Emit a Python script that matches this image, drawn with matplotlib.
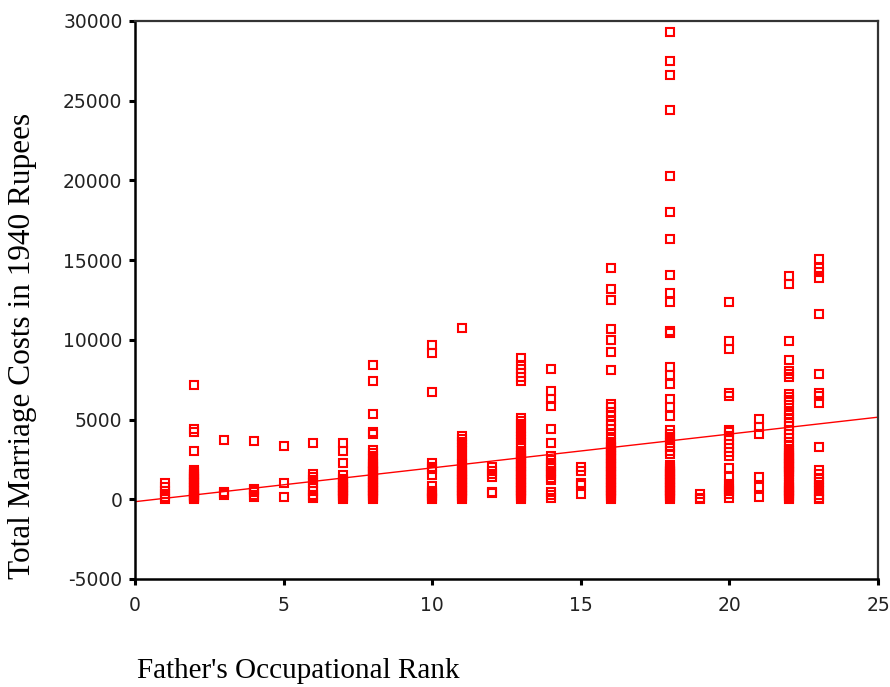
import matplotlib
matplotlib.use("Agg")
import matplotlib.pyplot as plt
import numpy as np

plt.rcParams['axes.unicode_minus'] = False

# marriage costs (1940 rupees) grouped by father's occupational rank
rank_1 = [0, 150, 350, 550, 800, 1000]
rank_2 = [0, 50, 100, 150, 200, 250, 300, 400, 500, 600, 700, 800, 900, 1000, 1100,
          1200, 1300, 1400, 1500, 1600, 1700, 1850, 3000, 4250, 4400, 7150]
rank_3 = [300, 400, 480, 3750]
rank_4 = [150, 300, 450, 600, 650, 3650]
rank_5 = [125, 1000, 3350]
rank_6 = [50, 150, 300, 550, 800, 1000, 1200, 1400, 1600, 3500]
rank_7 = [0, 100, 200, 300, 400, 500, 600, 700, 800, 900, 1000, 1100, 1200, 1300, 1500,
          2250, 3050, 3550]
rank_8 = [0, 100, 200, 300, 400, 500, 600, 700, 800, 900, 1000, 1100, 1200, 1300, 1400,
          1500, 1600, 1700, 1800, 1900, 2000, 2100, 2200, 2300, 2500, 2700, 2900, 3100,
          4100, 4250, 5350, 7400, 8400]
rank_10 = [0, 100, 200, 300, 400, 550, 830, 1520, 1900, 2050, 2250, 6750, 9150, 9650]
rank_11 = [0, 100, 200, 300, 400, 500, 600, 700, 800, 900, 1000, 1100, 1200, 1300, 1400,
           1500, 1600, 1700, 1800, 1900, 2000, 2200, 2400, 2600, 2800, 3000, 3200, 3400,
           3600, 3800, 4000, 10750]
rank_12 = [400, 450, 1400, 1600, 1800, 2050]
rank_13 = [0, 100, 200, 300, 400, 500, 600, 700, 800, 900, 1000, 1100, 1200, 1300, 1400,
           1500, 1600, 1700, 1800, 1900, 2000, 2100, 2200, 2300, 2400, 2500, 2600, 2700,
           2800, 2900, 3000, 3300, 3500, 3700, 3900, 4100, 4300, 4500, 4700, 4900, 5100,
           7450, 7700, 7950, 8150, 8400, 8850]
rank_14 = [50, 250, 450, 1200, 1350, 1500, 1650, 1800, 1950, 2100, 2250, 2450, 2700,
           3500, 4400, 5850, 6300, 6800, 8150]
rank_15 = [350, 900, 1000, 1800, 2050]
rank_16 = [0, 100, 200, 300, 400, 500, 600, 700, 800, 900, 1000, 1100, 1200, 1300, 1400,
           1500, 1600, 1700, 1800, 1900, 2000, 2100, 2200, 2300, 2400, 2500, 2600, 2700,
           2800, 2900, 3000, 3100, 3200, 3300, 3400, 3500, 3800, 4100, 4400, 4650, 4900,
           5200, 5500, 5800, 6000, 8100, 9250, 10000, 10650, 12500, 13200, 14500]
rank_18 = [0, 100, 200, 300, 400, 500, 600, 700, 800, 900, 1000, 1100, 1200, 1300, 1400,
           1500, 1600, 1700, 1800, 1900, 2000, 2150, 2850, 3050, 3300, 3500, 3700, 3900,
           4100, 4350, 5250, 5800, 6300, 7250, 7800, 8300, 10400, 10550, 12400, 12950,
           14050, 16300, 18050, 20300, 24400, 26600, 27500, 29300]
rank_19 = [0, 100, 350]
rank_20 = [60, 350, 500, 650, 800, 950, 1375, 1940, 2700, 2950, 3200, 3450, 3700, 3950,
           4200, 4350, 6500, 6650, 9400, 9900, 12400]
rank_21 = [160, 750, 1400, 4100, 4550, 5050]
rank_22 = [0, 100, 200, 300, 400, 500, 600, 700, 800, 900, 1000, 1200, 1450, 1600, 1700,
           1800, 1900, 2000, 2100, 2200, 2300, 2400, 2500, 2600, 2700, 2800, 2900, 3000,
           3125, 3400, 3600, 3850, 4125, 4375, 4600, 4850, 5100, 5300, 5540, 5890, 6200,
           6410, 6620, 7650, 7850, 8050, 8750, 9900, 13500, 14000]
rank_23 = [0, 100, 300, 500, 700, 900, 1100, 1300, 1600, 1850, 3250, 6050, 6500, 6650,
           7870, 11620, 13900, 14250, 14500, 15100]

ranks = [1, 2, 3, 4, 5, 6, 7, 8, 10, 11, 12, 13, 14, 15, 16, 18, 19, 20, 21, 22, 23]
costs = [rank_1, rank_2, rank_3, rank_4, rank_5, rank_6, rank_7, rank_8, rank_10,
         rank_11, rank_12, rank_13, rank_14, rank_15, rank_16, rank_18, rank_19,
         rank_20, rank_21, rank_22, rank_23]

# least-squares line as drawn on the chart
fit_intercept = -150
fit_slope = 212

x_vals = np.concatenate([[r] * len(c) for r, c in zip(ranks, costs)])
y_vals = np.concatenate(costs)

fig = plt.figure(figsize=(8.9, 6.87), dpi=100)
ax = fig.add_axes([135 / 890, 1 - 579 / 687, 743 / 890, 558 / 687])

red = '#ff0000'
ax.plot(x_vals, y_vals, linestyle='none', marker='s', markersize=6.2,
        markerfacecolor='none', markeredgecolor=red, markeredgewidth=1.5)

line_x = np.array([0, 25])
ax.plot(line_x, fit_intercept + fit_slope * line_x, color=red, linewidth=1.0)

ax.set_xlim(0, 25)
ax.set_ylim(-5000, 30000)
ax.set_xticks([0, 5, 10, 15, 20, 25])
ax.set_yticks([-5000, 0, 5000, 10000, 15000, 20000, 25000, 30000])

for side in ['left', 'bottom']:
    ax.spines[side].set_linewidth(1.8)
    ax.spines[side].set_color('black')
for side in ['top', 'right']:
    ax.spines[side].set_linewidth(1.6)
    ax.spines[side].set_color('#333333')

ax.tick_params(direction='out', length=4, width=2.2, color='black',
               labelsize=13.5, labelcolor='#222222')
ax.tick_params(axis='x', pad=8)
ax.tick_params(axis='y', pad=5)
for lab in ax.get_xticklabels() + ax.get_yticklabels():
    lab.set_family('DejaVu Sans')

fig.text(137 / 890, 1 - 678 / 687, "Father's Occupational Rank",
         family='Liberation Serif', fontsize=21, ha='left', va='baseline')
fig.text(23 / 890, 1 - 346 / 687, 'Total Marriage Costs in 1940 Rupees',
         family='Liberation Serif', fontsize=22.5, rotation=90,
         ha='center', va='center')

fig.savefig('out.png', dpi=100)
plt.close(fig)
